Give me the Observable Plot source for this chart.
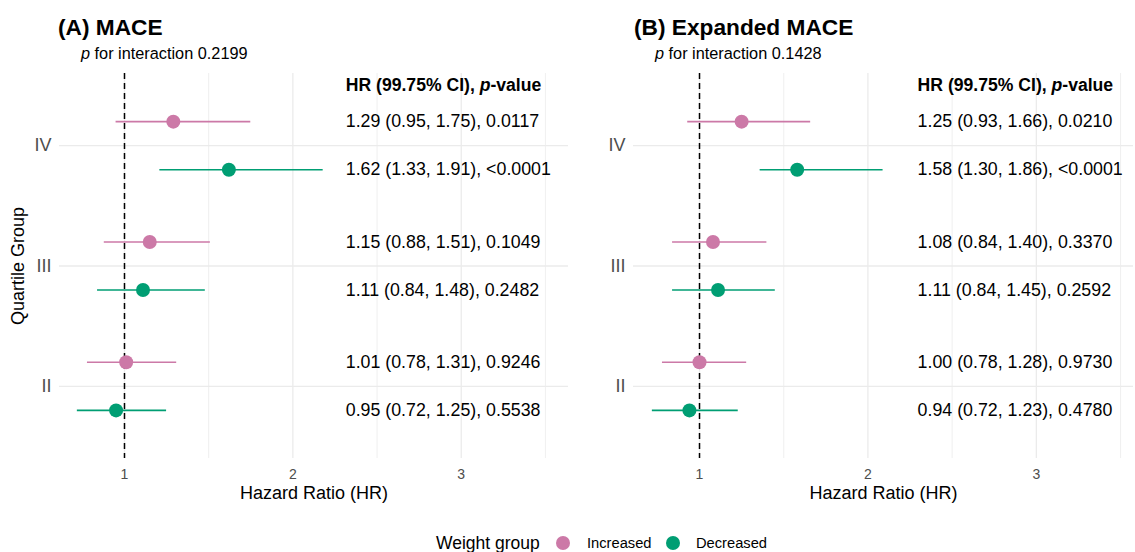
<!DOCTYPE html>
<html>
<head>
<meta charset="utf-8">
<script src="https://cdn.jsdelivr.net/npm/d3@7"></script>
<script src="https://cdn.jsdelivr.net/npm/@observablehq/plot@0.6"></script>
<style>
  html, body { margin: 0; padding: 0; background: #fff; }
  body { width: 1135px; height: 552px; overflow: hidden; position: relative;
         font-family: "Liberation Sans", Arial, Helvetica, sans-serif; color: #000; }
  .abs { position: absolute; white-space: nowrap; }
  .title { font-weight: bold; font-size: 22.7px; line-height: 26px; }
  .subtitle { font-size: 16.3px; line-height: 20px; }
  .legend-text { font-size: 17.5px; line-height: 20px; }
  .legend-key { font-size: 14.7px; line-height: 20px; }
  .dot { position: absolute; width: 14px; height: 14px; border-radius: 50%; }
</style>
</head>
<body>
<script>
// ---- Data ----
const quartiles = ["II", "III", "IV"];
const groups = ["Increased", "Decreased"];
const groupColors = ["#CC79A7", "#009E73"];

// (A) MACE — values printed in the table column
const maceIncHR = [1.01, 1.15, 1.29];
const maceIncLo = [0.78, 0.88, 0.95];
const maceIncHi = [1.31, 1.51, 1.75];
const maceIncP  = ["0.9246", "0.1049", "0.0117"];
const maceDecHR = [0.95, 1.11, 1.62];
const maceDecLo = [0.72, 0.84, 1.33];
const maceDecHi = [1.25, 1.48, 1.91];
const maceDecP  = ["0.5538", "0.2482", "<0.0001"];
// interval ends as drawn in the picture (differ from the text for IV)
const maceDecDrawLo = [0.72, 0.84, 1.21];
const maceDecDrawHi = [1.25, 1.48, 2.18];
const maceInteraction = "0.2199";

// (B) Expanded MACE
const expIncHR = [1.00, 1.08, 1.25];
const expIncLo = [0.78, 0.84, 0.93];
const expIncHi = [1.28, 1.40, 1.66];
const expIncP  = ["0.9730", "0.3370", "0.0210"];
const expDecHR = [0.94, 1.11, 1.58];
const expDecLo = [0.72, 0.84, 1.30];
const expDecHi = [1.23, 1.45, 1.86];
const expDecP  = ["0.4780", "0.2592", "<0.0001"];
const expDecDrawLo = [0.72, 0.84, 1.36];
const expDecDrawHi = [1.23, 1.45, 2.09];
const expInteraction = "0.1428";

const xTicks = [1, 2, 3];
const xMinorTicks = [1.5, 2.5, 3.5];
const refLine = 1;
const headerText = "HR (99.75% CI), p-value";
const xLabel = "Hazard Ratio (HR)";
const yLabel = "Quartile Group";
const legendTitle = "Weight group";

// ---- Build tables ----
const dodge = 0.2;
const headerY = 3.5;     // header row (y units)
function buildRows(inc, dec) {
  const rows = [];
  quartiles.forEach((q, i) => {
    rows.push({q, group: groups[0], y: i + 1 + dodge, hr: inc.hr[i], lo: inc.lo[i], hi: inc.hi[i],
               dlo: inc.dlo[i], dhi: inc.dhi[i], p: inc.p[i]});
    rows.push({q, group: groups[1], y: i + 1 - dodge, hr: dec.hr[i], lo: dec.lo[i], hi: dec.hi[i],
               dlo: dec.dlo[i], dhi: dec.dhi[i], p: dec.p[i]});
  });
  rows.forEach(r => r.label = `${r.hr.toFixed(2)} (${r.lo.toFixed(2)}, ${r.hi.toFixed(2)}), ${r.p}`);
  return rows;
}

const panels = [
  {title: "(A) MACE", inter: maceInteraction,
   rows: buildRows(
     {hr: maceIncHR, lo: maceIncLo, hi: maceIncHi, dlo: maceIncLo, dhi: maceIncHi, p: maceIncP},
     {hr: maceDecHR, lo: maceDecLo, hi: maceDecHi, dlo: maceDecDrawLo, dhi: maceDecDrawHi, p: maceDecP}),
   left: 0, width: 575, marginLeft: 59, marginRight: 7, xDomain: [0.614, 3.637], labelX: 2.314,
   titleLeft: 58, subLeft: 81, showYLabel: true},
  {title: "(B) Expanded MACE", inter: expInteraction,
   rows: buildRows(
     {hr: expIncHR, lo: expIncLo, hi: expIncHi, dlo: expIncLo, dhi: expIncHi, p: expIncP},
     {hr: expDecHR, lo: expDecLo, hi: expDecHi, dlo: expDecDrawLo, dhi: expDecDrawHi, p: expDecP}),
   left: 575, width: 560, marginLeft: 58, marginRight: 2, xDomain: [0.608, 3.577], labelX: 2.295,
   titleLeft: 634, subLeft: 655, showYLabel: false}
];

const font = "'Liberation Sans', Arial, Helvetica, sans-serif";
const svgTop = 60;

function addDiv(cls, left, top, html) {
  const d = document.createElement("div");
  d.className = "abs " + cls;
  d.style.left = left + "px";
  d.style.top = top + "px";
  d.innerHTML = html;
  document.body.appendChild(d);
  return d;
}

panels.forEach(p => {
  addDiv("title", p.titleLeft, 14, p.title);
  addDiv("subtitle", p.subLeft, 43, `<i>p</i> for interaction ${p.inter}`);

  const marks = [
    Plot.gridY(quartiles.map((q, i) => i + 1), {stroke: "#ebebeb", strokeOpacity: 1, strokeWidth: 1.3}),
    Plot.gridX(xMinorTicks, {stroke: "#ebebeb", strokeOpacity: 1, strokeWidth: 0.8}),
    Plot.gridX(xTicks, {stroke: "#ebebeb", strokeOpacity: 1, strokeWidth: 1.3}),
    Plot.ruleX([refLine], {stroke: "black", strokeWidth: 1.5, strokeDasharray: "6,4"}),
    Plot.ruleY(p.rows, {y: "y", x1: "dlo", x2: "dhi", stroke: "group", strokeWidth: 1.6}),
    Plot.dot(p.rows, {x: "hr", y: "y", fill: "group", r: 7}),
    Plot.text(p.rows, {x: () => p.labelX, y: "y", text: "label", textAnchor: "start", fontSize: 17.8, fill: "#000"}),
    Plot.text([headerText], {x: () => p.labelX, y: () => headerY, text: d => d, textAnchor: "start", fontSize: 17.6, fontWeight: "bold", fill: "#000"}),
    Plot.axisX(xTicks, {tickFormat: d => String(d), tickSize: 0, tickPadding: 11, fontSize: 14, color: "#4d4d4d", label: null}),
    Plot.axisY([1, 2, 3], {tickFormat: d => quartiles[d - 1], tickSize: 0, tickPadding: 8, fontSize: 18, color: "#4d4d4d", label: null}),
    Plot.text([xLabel], {frameAnchor: "bottom", lineAnchor: "middle", textAnchor: "middle", dy: 35, text: d => d, fontSize: 18, fill: "#000"})
  ];
  if (p.showYLabel) {
    marks.push(Plot.text([yLabel], {frameAnchor: "left", textAnchor: "middle", lineAnchor: "middle", dx: -41, rotate: -90, text: d => d, fontSize: 18, fill: "#000"}));
  }

  const chart = Plot.plot({
    width: p.width,
    height: 448,
    marginLeft: p.marginLeft,
    marginRight: p.marginRight,
    marginTop: 13,
    marginBottom: 50,
    x: {domain: p.xDomain},
    y: {domain: [0.4, 3.6]},
    color: {domain: groups, range: groupColors},
    style: {fontFamily: font, background: "transparent", overflow: "visible"},
    marks
  });

  // italic "p" inside the bold header
  chart.querySelectorAll("text").forEach(t => {
    if (t.textContent === headerText) {
      t.textContent = "";
      const ns = "http://www.w3.org/2000/svg";
      const a = document.createElementNS(ns, "tspan"); a.textContent = "HR (99.75% CI), ";
      const b = document.createElementNS(ns, "tspan"); b.textContent = "p"; b.setAttribute("font-style", "italic");
      const c = document.createElementNS(ns, "tspan"); c.textContent = "-value";
      t.append(a, b, c);
    }
  });

  chart.style.position = "absolute";
  chart.style.left = p.left + "px";
  chart.style.top = svgTop + "px";
  document.body.appendChild(chart);
});

// Legend
addDiv("legend-text", 436, 533, legendTitle);
const legendDots = [563, 673];
const legendTextX = [587, 696];
groups.forEach((g, i) => {
  const d = document.createElement("div");
  d.className = "dot";
  d.style.left = (legendDots[i] - 7) + "px";
  d.style.top = (543 - 7) + "px";
  d.style.background = groupColors[i];
  document.body.appendChild(d);
  addDiv("legend-key", legendTextX[i], 533, g);
});
</script>
</body>
</html>
